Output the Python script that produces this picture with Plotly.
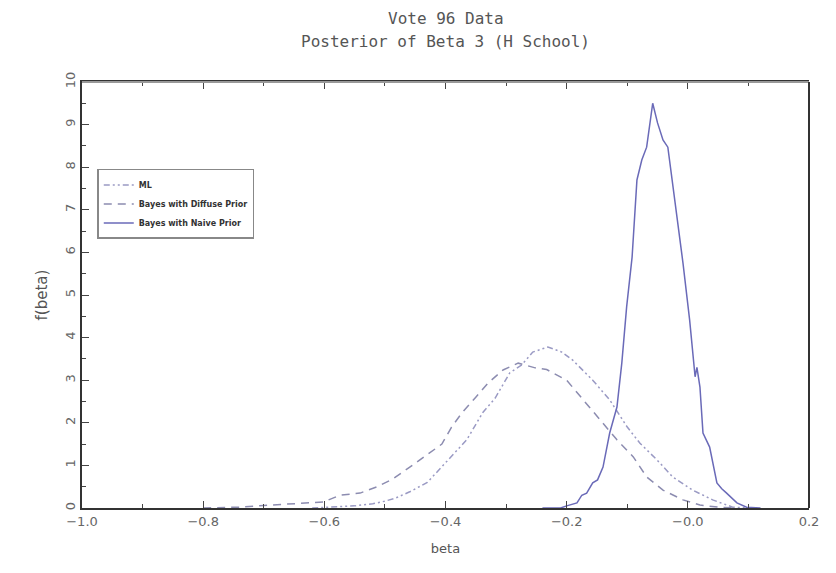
import plotly.graph_objects as go

# ---- data ----
ml_x = [-0.62, -0.58, -0.55, -0.52, -0.50, -0.483, -0.459, -0.43, -0.396, -0.365, -0.338, -0.318,
        -0.294, -0.274, -0.256, -0.231, -0.208, -0.19, -0.157, -0.129, -0.10, -0.079, -0.051,
        -0.025, 0.008, 0.041, 0.074, 0.10]
ml_y = [0.0, 0.02, 0.05, 0.10, 0.16, 0.23, 0.38, 0.60, 1.13, 1.60, 2.25, 2.58,
        3.17, 3.36, 3.66, 3.78, 3.66, 3.47, 3.00, 2.54, 1.90, 1.52, 1.13,
        0.73, 0.42, 0.19, 0.02, 0.0]

diff_x = [-0.80, -0.74, -0.70, -0.65, -0.602, -0.574, -0.541, -0.513, -0.487, -0.459, -0.43,
          -0.406, -0.39, -0.373, -0.35, -0.33, -0.305, -0.28, -0.252, -0.233, -0.20, -0.173,
          -0.15, -0.117, -0.09, -0.068, -0.041, -0.008, 0.02, 0.05, 0.08]
diff_y = [0.0, 0.02, 0.06, 0.10, 0.14, 0.30, 0.35, 0.50, 0.68, 0.96, 1.26,
          1.50, 1.90, 2.23, 2.60, 2.93, 3.24, 3.40, 3.29, 3.25, 3.00, 2.54,
          2.14, 1.60, 1.20, 0.73, 0.42, 0.19, 0.07, 0.02, 0.0]

naive_x = [-0.24, -0.21, -0.20, -0.183, -0.175, -0.167, -0.157, -0.149, -0.14, -0.129, -0.117,
           -0.109, -0.101, -0.092, -0.084, -0.076, -0.068, -0.063, -0.058, -0.05, -0.041,
           -0.033, -0.025, -0.018, -0.008, 0.003, 0.008, 0.012, 0.015, 0.02, 0.025, 0.036,
           0.048, 0.056, 0.064, 0.081, 0.097, 0.12]
naive_y = [0.0, 0.0, 0.05, 0.12, 0.30, 0.35, 0.59, 0.66, 0.96, 1.76, 2.37,
           3.40, 4.72, 5.89, 7.70, 8.17, 8.47, 9.00, 9.50, 9.04, 8.64,
           8.47, 7.60, 6.92, 5.75, 4.41, 3.60, 3.08, 3.30, 2.84, 1.76, 1.43,
           0.59, 0.45, 0.35, 0.12, 0.02, 0.0]

title_lines = ["Vote 96 Data", "Posterior of Beta 3 (H School)"]
x_ticks = [-1.0, -0.8, -0.6, -0.4, -0.2, 0.0, 0.2]
x_ticktext = ["\u22121.0", "\u22120.8", "\u22120.6", "\u22120.4", "\u22120.2", "\u22120.0", "0.2"]
y_ticks = list(range(0, 11))

fig = go.Figure()
fig.add_trace(go.Scatter(x=ml_x, y=ml_y, mode="lines", name="ML",
                         line=dict(color="#9a9ac4", width=1.5, dash="6px,3px,2px,3px,2px,3px")))
fig.add_trace(go.Scatter(x=diff_x, y=diff_y, mode="lines", name="Bayes with Diffuse Prior",
                         line=dict(color="#8c8cb0", width=1.5, dash="8px,6px")))
fig.add_trace(go.Scatter(x=naive_x, y=naive_y, mode="lines", name="Bayes with Naive Prior",
                         line=dict(color="#6a6ab8", width=1.5)))

font_main = "DejaVu Sans"
font_title = "DejaVu Sans Mono"
fig.update_layout(
    width=836, height=573,
    margin=dict(l=82, r=27, t=82, b=65),
    paper_bgcolor="white", plot_bgcolor="white",
    annotations=[
        dict(text=title_lines[0], xref="paper", yref="paper", x=0.5, y=1.150,
             xanchor="center", yanchor="middle", showarrow=False,
             font=dict(family=font_title, size=16, color="#555")),
        dict(text=title_lines[1], xref="paper", yref="paper", x=0.5, y=1.094,
             xanchor="center", yanchor="middle", showarrow=False,
             font=dict(family=font_title, size=16, color="#555")),
    ],
    showlegend=True,
    legend=dict(x=0.021, y=0.796, xanchor="left", yanchor="top",
                bordercolor="#888", borderwidth=1.5, bgcolor="white",
                font=dict(family=font_main, size=8, color="#333", weight="bold"),
                tracegroupgap=0),
    xaxis=dict(range=[-1.0, 0.2], tickvals=x_ticks, ticktext=x_ticktext,
               ticks="inside", ticklen=7, tickcolor="#444", tickwidth=1,
               minor=dict(dtick=0.1, ticks="inside", ticklen=4, tickcolor="#444"),
               showline=True, linecolor="#333", linewidth=2, mirror="ticks",
               showgrid=False, zeroline=False,
               tickfont=dict(family=font_main, size=13, color="#666"),
               title=dict(text="beta", font=dict(family=font_main, size=13, color="#555"),
                          standoff=16)),
    yaxis=dict(range=[0, 10], tickvals=y_ticks,
               ticks="inside", ticklen=7, tickcolor="#444", tickwidth=1,
               minor=dict(dtick=0.5, ticks="inside", ticklen=4, tickcolor="#444"),
               showline=True, linecolor="#333", linewidth=2,
               showgrid=False, zeroline=False, tickangle=-90,
               tickfont=dict(family=font_main, size=13, color="#666"),
               title=dict(text="f(beta)", font=dict(family=font_main, size=15, color="#555"),
                          standoff=12)),
    shapes=[
        dict(type="line", xref="paper", yref="paper", x0=0, x1=1, y0=1, y1=1,
             line=dict(color="#999", width=2), layer="above"),
        dict(type="line", xref="paper", yref="paper", x0=1, x1=1, y0=0, y1=1,
             line=dict(color="#333", width=2), layer="above"),
    ],
)

fig.write_html("out.html")
